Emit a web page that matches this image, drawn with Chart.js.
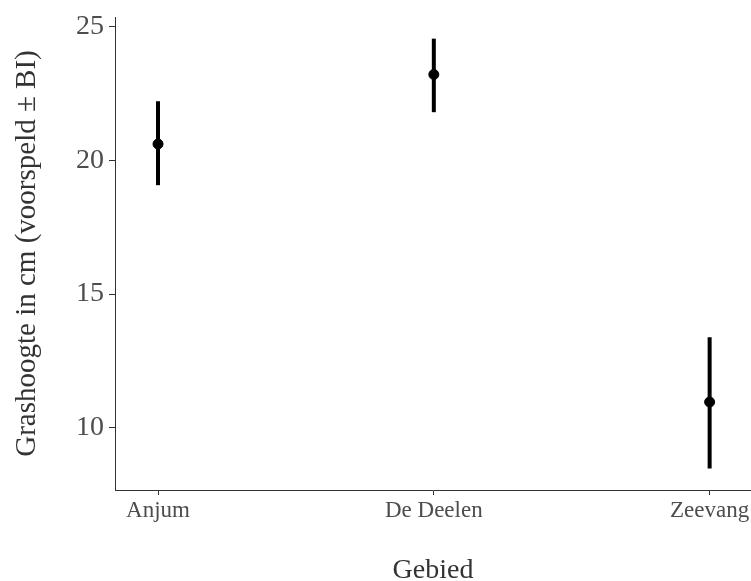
<!DOCTYPE html>
<html>
<head>
<meta charset="utf-8">
<script src="https://cdn.jsdelivr.net/npm/chart.js@4.4.0/dist/chart.umd.min.js"></script>
<style>
  body { margin: 0; background: #fff; overflow: hidden; }
</style>
</head>
<body>
<canvas id="grass-chart" width="751" height="581"></canvas>
<script>
// voorspelde grashoogte per gebied met betrouwbaarheidsinterval
const gebieden = ["Anjum", "De Deelen", "Zeevang"];
const voorspeld = [20.61, 23.21, 10.96];
const ondergrens = [19.07, 21.8, 8.47];
const bovengrens = [22.21, 24.55, 13.38];
const yTicks = [10, 15, 20, 25];

const serif = '"Liberation Serif", "Times New Roman", serif';

// een lijn per gebied voor het interval, plus de punten erbovenop
const intervalSets = gebieden.map((g, i) => ({
  type: "line",
  label: g + " BI",
  data: [
    { x: i, y: ondergrens[i] },
    { x: i, y: bovengrens[i] },
  ],
  borderColor: "#000",
  borderWidth: 4,
  pointRadius: 0,
  fill: false,
}));

const pointSet = {
  type: "scatter",
  label: "voorspeld",
  data: gebieden.map((g, i) => ({ x: i, y: voorspeld[i] })),
  backgroundColor: "#000",
  borderColor: "#000",
  pointRadius: 5,
};

// geen extra ruimte voor halve labels aan de randen
function geenRandPadding(scale) {
  scale.paddingLeft = 0;
  scale.paddingRight = 0;
  scale.paddingTop = 0;
  scale.paddingBottom = 0;
}

const ctx = document.getElementById("grass-chart").getContext("2d");
new Chart(ctx, {
  type: "scatter",
  data: { datasets: [...intervalSets, pointSet] },
  options: {
    responsive: false,
    animation: false,
    devicePixelRatio: 1,
    layout: {
      autoPadding: false,
      padding: { top: 17, right: 0, left: 0, bottom: 0 },
    },
    plugins: { legend: { display: false }, tooltip: { enabled: false } },
    scales: {
      x: {
        type: "linear",
        min: -0.156,
        max: 2.15,
        afterBuildTicks: (scale) => {
          scale.ticks = gebieden.map((g, i) => ({ value: i }));
        },
        afterFit: (scale) => {
          scale.height = 91;
          geenRandPadding(scale);
        },
        ticks: {
          callback: (v) => gebieden[v],
          color: "#4d4d4d",
          font: { family: serif, size: 23 },
          padding: 2,
          maxRotation: 0,
          autoSkip: false,
        },
        grid: { drawOnChartArea: false, tickLength: 5, color: "#333" },
        border: { color: "#333", width: 1 },
        title: {
          display: true,
          text: "Gebied",
          color: "#333",
          font: { family: serif, size: 28, lineHeight: 1 },
          padding: { top: 0, bottom: -4 },
        },
      },
      y: {
        min: 7.67,
        max: 25.36,
        afterBuildTicks: (scale) => {
          scale.ticks = yTicks.map((v) => ({ value: v }));
        },
        afterFit: (scale) => {
          scale.width = 115;
          geenRandPadding(scale);
        },
        ticks: {
          color: "#4d4d4d",
          font: { family: serif, size: 28 },
          padding: 5,
        },
        grid: { drawOnChartArea: false, tickLength: 6, color: "#333" },
        border: { color: "#333", width: 1 },
        title: {
          display: true,
          text: "Grashoogte in cm (voorspeld ± BI)",
          color: "#333",
          font: { family: serif, size: 29, lineHeight: 1 },
          padding: { top: 13, bottom: 0 },
        },
      },
    },
  },
});
</script>
</body>
</html>
